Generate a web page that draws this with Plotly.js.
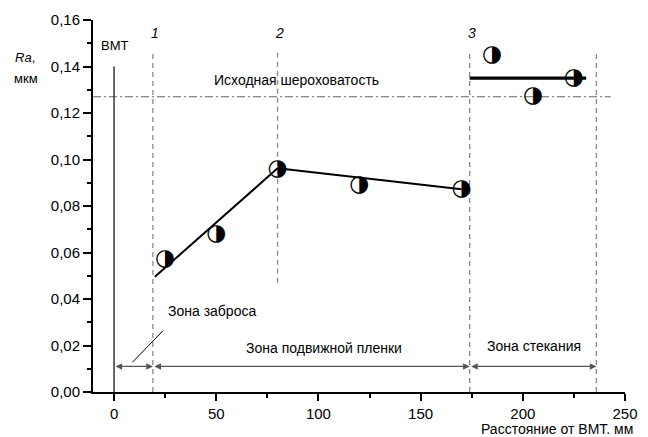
<!DOCTYPE html>
<html><head><meta charset="utf-8">
<script src="https://cdn.plot.ly/plotly-3.0.1.min.js"></script>
<style>html,body{margin:0;padding:0;background:#fff}#chart{width:648px;height:437px}</style>
</head><body><div id="chart"></div>
<script>
// ---- data ----
const markerX = [25, 50, 80, 120, 170, 185, 205, 225];
const markerY = [0.057, 0.068, 0.096, 0.089, 0.087, 0.145, 0.127, 0.135];
const riseX = [20, 80];     const riseY = [0.0496, 0.0962];
const fallX = [80, 170];    const fallY = [0.0962, 0.0872];
const flowX = [174, 231];   const flowY = [0.135, 0.135];
const initialRa = 0.127;
const initialSpan = [-10.3, 243];
const bmtX = 0;  const bmtTop = 0.14;
const boundaryX = [19, 80, 174, 236];
const boundaryTop = 0.146;
const boundaryBottom = [0, 0.047, 0, 0];
const boundaryNames = ['1', '2', '3'];
const zoneBounds = [0, 19, 174, 236];
const zoneArrowY = 0.011;
const zoneNames = ['Зона заброса', 'Зона подвижной пленки', 'Зона стекания'];
const zoneLabelX = [48, 102.5, 205.4];
const zoneLabelY = [0.035, 0.019, 0.020];
const leaderX = [9, 24];  const leaderY = [0.0128, 0.0264];
const xTicks = [0, 50, 100, 150, 200, 250];
const yTicks = [0, 0.02, 0.04, 0.06, 0.08, 0.10, 0.12, 0.14, 0.16];

const FONT = 'Liberation Sans, Arial, sans-serif';
const traces = [];
// boundaries (dashed)
boundaryX.forEach((bx, i) => {
  traces.push({x: [bx, bx], y: [boundaryBottom[i], boundaryTop], mode: 'lines',
    line: {color: '#888', width: 1.3, dash: '5px,4px'}, hoverinfo: 'skip', showlegend: false});
});
// initial roughness
traces.push({x: initialSpan, y: [initialRa, initialRa], mode: 'lines',
  line: {color: '#666', width: 1.2, dash: '8px,3px,2px,3px'}, showlegend: false});
// BMT line
traces.push({x: [bmtX, bmtX], y: [0, bmtTop], mode: 'lines', line: {color: '#444', width: 1.6}, showlegend: false});
// fits
traces.push({x: riseX, y: riseY, mode: 'lines', line: {color: '#000', width: 2}, showlegend: false});
traces.push({x: fallX, y: fallY, mode: 'lines', line: {color: '#000', width: 2}, showlegend: false});
traces.push({x: flowX, y: flowY, mode: 'lines', line: {color: '#000', width: 3.2}, showlegend: false});
// leader line
traces.push({x: leaderX, y: leaderY, mode: 'lines', line: {color: '#000', width: 1}, showlegend: false});
// markers as half-filled circles
traces.push({x: markerX, y: markerY, mode: 'text', text: markerX.map(() => '◑'),
  textposition: 'middle center', textfont: {family: 'DejaVu Sans', size: 23, color: '#000'}, showlegend: false});

const annotations = [];
for (let i = 0; i < zoneBounds.length - 1; i++) {
  annotations.push({xref: 'x', yref: 'y', axref: 'x', ayref: 'y',
    x: zoneBounds[i + 1], y: zoneArrowY, ax: zoneBounds[i], ay: zoneArrowY,
    text: '', showarrow: true, arrowside: 'end+start', arrowhead: 2, arrowsize: 1.1,
    arrowwidth: 1.2, arrowcolor: '#555'});
  annotations.push({xref: 'x', yref: 'y', x: zoneLabelX[i], y: zoneLabelY[i], text: zoneNames[i],
    showarrow: false, font: {family: FONT, size: 14, color: '#000'}});
}
boundaryNames.forEach((n, i) => {
  annotations.push({xref: 'x', yref: 'y', x: boundaryX[i] + 1, y: 0.1545, text: '<i>' + n + '</i>',
    showarrow: false, font: {family: FONT, size: 14, color: '#000'}});
});
annotations.push({xref: 'x', yref: 'y', x: 89.4, y: 0.1342, text: 'Исходная шероховатость',
  showarrow: false, font: {family: FONT, size: 14, color: '#000'}});
annotations.push({xref: 'x', yref: 'y', x: 0.5, y: 0.1492, text: 'ВМТ',
  showarrow: false, font: {family: FONT, size: 13, color: '#000'}});
annotations.push({xref: 'paper', yref: 'paper', x: -0.150, y: 0.925, xanchor: 'left', text: '<i>Ra</i>,',
  showarrow: false, font: {family: FONT, size: 13, color: '#000'}});
annotations.push({xref: 'paper', yref: 'paper', x: -0.152, y: 0.868, xanchor: 'left', text: 'мкм',
  showarrow: false, font: {family: FONT, size: 13, color: '#000'}});
annotations.push({xref: 'paper', yref: 'paper', x: 1.018, y: -0.099, xanchor: 'right', yanchor: 'middle',
  text: 'Расстояние от ВМТ. мм', showarrow: false, font: {family: FONT, size: 14, color: '#000'}});

const layout = {
  width: 648, height: 437,
  margin: {l: 93, r: 23, t: 20, b: 45},
  paper_bgcolor: '#fff', plot_bgcolor: '#fff',
  separators: ', ',
  font: {family: FONT, size: 15, color: '#000'},
  showlegend: false,
  xaxis: {range: [-10.3, 250], tickvals: xTicks, ticktext: xTicks.map(String),
    showgrid: false, zeroline: false, showline: true, linecolor: '#000', linewidth: 2,
    ticks: 'outside', ticklen: 7, tickwidth: 2, tickcolor: '#000',
    minor: {dtick: 25, tick0: 0, ticks: 'outside', ticklen: 4, tickwidth: 2, tickcolor: '#000', showgrid: false},
    tickfont: {family: FONT, size: 15}},
  yaxis: {range: [0, 0.16], tickvals: yTicks, tickformat: '.2f',
    showgrid: false, zeroline: false, showline: true, linecolor: '#000', linewidth: 2,
    ticks: 'outside', ticklen: 8, tickwidth: 2, tickcolor: '#000',
    minor: {dtick: 0.01, tick0: 0, ticks: 'outside', ticklen: 4, tickwidth: 2, tickcolor: '#000', showgrid: false},
    tickfont: {family: FONT, size: 15}},
  annotations: annotations
};
Plotly.newPlot('chart', traces, layout, {displayModeBar: false, staticPlot: true});
</script></body></html>
